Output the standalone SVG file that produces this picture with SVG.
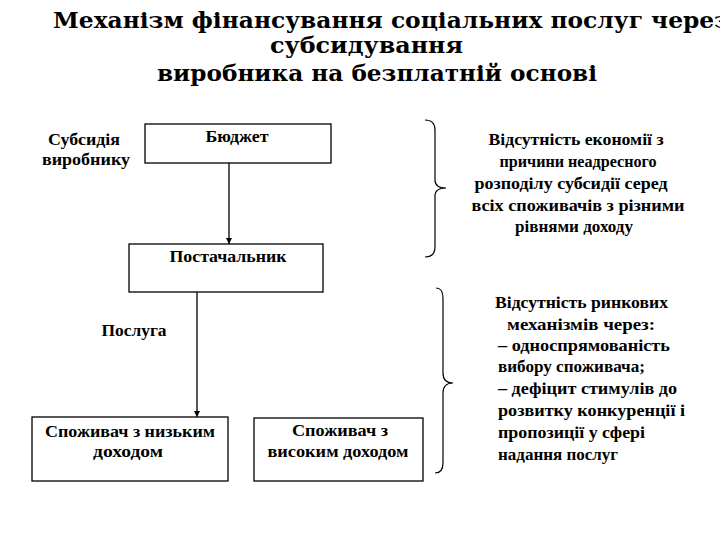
<svg xmlns="http://www.w3.org/2000/svg" width="720" height="540" viewBox="0 0 720 540">
<style>
  text { font-family: Liberation Serif, DejaVu Serif, Times New Roman, serif; font-weight: 700; fill: #000; }
  .title { font-family: DejaVu Serif, Liberation Serif, serif; font-size: 22px; }
  .t { font-size: 16px; }
  .box { fill: #fff; stroke: #000; stroke-width: 1.3; }
  .conn { fill: none; stroke: #000; stroke-width: 1.3; }
  .brace { fill: none; stroke: #000; stroke-width: 1.2; }
</style>
<defs>
  <marker id="arr" viewBox="0 0 10 10" refX="10" refY="5" markerWidth="6" markerHeight="6" markerUnits="userSpaceOnUse" orient="auto">
    <path d="M0,0 L10,5 L0,10 Z" fill="#000"/>
  </marker>
</defs>
<rect width="720" height="540" fill="#fff"/>

<g id="title">
  <text class="title" x="53" y="28" textLength="676" lengthAdjust="spacingAndGlyphs">Механізм фінансування соціальних послуг через</text>
  <text class="title" x="270" y="53" textLength="193" lengthAdjust="spacingAndGlyphs">субсидування</text>
  <text class="title" x="157" y="81" textLength="440" lengthAdjust="spacingAndGlyphs">виробника на безплатній основі</text>
</g>

<g id="connectors">
  <line class="conn" x1="229" y1="163" x2="229" y2="244" marker-end="url(#arr)"/>
  <line class="conn" x1="197" y1="292" x2="197" y2="417" marker-end="url(#arr)"/>
</g>

<g id="budget">
  <rect class="box" x="145" y="124" width="186" height="39"/>
  <text class="t" x="237" y="142" text-anchor="middle" textLength="63" lengthAdjust="spacingAndGlyphs">Бюджет</text>
</g>

<g id="supplier">
  <rect class="box" x="129" y="244" width="194" height="48"/>
  <text class="t" x="228" y="262" text-anchor="middle" textLength="117" lengthAdjust="spacingAndGlyphs">Постачальник</text>
</g>

<g id="consumer-low">
  <rect class="box" x="32" y="417" width="196" height="64"/>
  <text class="t" x="130" y="437" text-anchor="middle" textLength="170" lengthAdjust="spacingAndGlyphs">Споживач з низьким</text>
  <text class="t" x="128" y="457" text-anchor="middle" textLength="70" lengthAdjust="spacingAndGlyphs">доходом</text>
</g>

<g id="consumer-high">
  <rect class="box" x="254" y="418" width="169" height="63"/>
  <text class="t" x="340" y="436" text-anchor="middle" textLength="96" lengthAdjust="spacingAndGlyphs">Споживач з</text>
  <text class="t" x="338" y="457" text-anchor="middle" textLength="141" lengthAdjust="spacingAndGlyphs">високим доходом</text>
</g>

<g id="label-subsidy">
  <text class="t" x="84" y="145" text-anchor="middle" textLength="72" lengthAdjust="spacingAndGlyphs">Субсидія</text>
  <text class="t" x="86" y="165" text-anchor="middle" textLength="88" lengthAdjust="spacingAndGlyphs">виробнику</text>
</g>

<g id="label-service">
  <text class="t" x="134" y="336" text-anchor="middle" textLength="65" lengthAdjust="spacingAndGlyphs">Послуга</text>
</g>

<g id="brace-1">
  <path class="brace" d="M425,120 Q435,120 435,130 L435,180 Q435,188 446,188 Q435,188 435,196 L435,247 Q435,257 425,257"/>
</g>

<g id="note-1">
  <text class="t" x="576" y="145" text-anchor="middle" textLength="175" lengthAdjust="spacingAndGlyphs">Відсутність економії з</text>
  <text class="t" x="578" y="167" text-anchor="middle" textLength="157" lengthAdjust="spacingAndGlyphs">причини неадресного</text>
  <text class="t" x="571" y="189" text-anchor="middle" textLength="193" lengthAdjust="spacingAndGlyphs">розподілу субсидії серед</text>
  <text class="t" x="578" y="211" text-anchor="middle" textLength="213" lengthAdjust="spacingAndGlyphs">всіх споживачів з різними</text>
  <text class="t" x="574" y="232" text-anchor="middle" textLength="118" lengthAdjust="spacingAndGlyphs">рівнями доходу</text>
</g>

<g id="brace-2">
  <path class="brace" d="M436,288 Q443,288 443,298 L443,373 Q443,383 453,383 Q443,383 443,393 L443,463 Q443,473 435,473"/>
</g>

<g id="note-2">
  <text class="t" x="495" y="308" textLength="173" lengthAdjust="spacingAndGlyphs">Відсутність ринкових</text>
  <text class="t" x="507" y="330" textLength="148" lengthAdjust="spacingAndGlyphs">механізмів через:</text>
  <text class="t" x="498" y="351" textLength="172" lengthAdjust="spacingAndGlyphs">– односпрямованість</text>
  <text class="t" x="498" y="372" textLength="147" lengthAdjust="spacingAndGlyphs">вибору споживача;</text>
  <text class="t" x="498" y="394" textLength="179" lengthAdjust="spacingAndGlyphs">– дефіцит стимулів до</text>
  <text class="t" x="498" y="416" textLength="187" lengthAdjust="spacingAndGlyphs">розвитку конкуренції і</text>
  <text class="t" x="498" y="438" textLength="147" lengthAdjust="spacingAndGlyphs">пропозиції у сфері</text>
  <text class="t" x="498" y="460" textLength="120" lengthAdjust="spacingAndGlyphs">надання послуг</text>
</g>
</svg>
